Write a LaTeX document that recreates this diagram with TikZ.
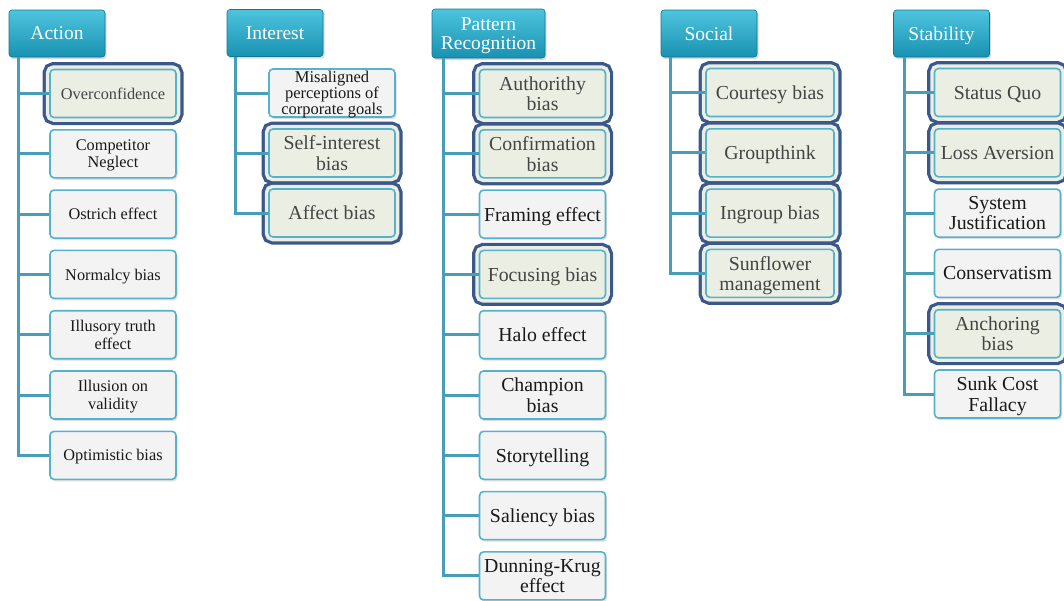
\documentclass[tikz,border=0pt]{standalone}
\usepackage{fontspec}
\setmainfont{Liberation Serif}
\usetikzlibrary{shadows}
\definecolor{headtop}{RGB}{78,196,222}
\definecolor{headbot}{RGB}{24,146,178}
\definecolor{leafline}{RGB}{84,178,204}
\definecolor{leaffill}{RGB}{243,243,243}
\definecolor{hotfill}{RGB}{235,238,226}
\definecolor{hotline}{RGB}{58,88,138}
\definecolor{hottext}{RGB}{68,68,68}
\definecolor{linkc}{RGB}{72,158,184}

\tikzset{
  head/.style={rounded corners=3pt, top color=headtop, bottom color=headbot,
    draw=headbot!80!black, line width=0.6pt, text=white, align=center,
    minimum width=96pt, minimum height=47pt, inner sep=1pt, text depth=0pt,
    font=\fontsize{19.5}{19.5}\selectfont,
    drop shadow={shadow xshift=1.5pt, shadow yshift=-2pt, opacity=0.3}},
  leaf/.style={rounded corners=4pt, fill=leaffill, draw=leafline, line width=1.6pt,
    text=black!90, align=center, minimum width=126pt, minimum height=48pt, inner sep=1pt,
    text depth=0pt, font=\fontsize{19.8}{20.5}\selectfont,
    drop shadow={shadow xshift=1.5pt, shadow yshift=-2pt, opacity=0.25}},
  hot/.style={leaf, fill=hotfill, text=hottext,
    preaction={draw=hotline, line width=15pt},
    preaction={draw=hotfill, line width=8.5pt}},
  small/.style={font=\fontsize{16.3}{17.5}\selectfont},
  tiny/.style={font=\fontsize{16.5}{15.8}\selectfont},
  link/.style={draw=linkc, line width=3pt},
}

\begin{document}
\begin{tikzpicture}[x=1pt,y=1pt]
\useasboundingbox (0,0) rectangle (1064,-600);

%headers
\node[head] (act) at (57,-33.5) {Action};
\node[head] (int) at (275,-33) {Interest};
\node[head, minimum width=113pt, minimum height=49pt] (pat) at (488.5,-33.5) {Pattern\\Recognition};
\node[head] (soc) at (709,-33.5) {Social};
\node[head] (sta) at (941.5,-33.5) {Stability};

%trunk tops
\coordinate (act-t) at ([xshift=10pt]act.south west);
\coordinate (int-t) at ([xshift=9pt]int.south west);
\coordinate (pat-t) at ([xshift=12pt]pat.south west);
\coordinate (soc-t) at ([xshift=10pt]soc.south west);
\coordinate (sta-t) at ([xshift=11pt]sta.south west);

%action
\foreach \txt/\kind [count=\i] in {Overconfidence/hot, {Competitor\\Neglect}/leaf,
  Ostrich effect/leaf, Normalcy bias/leaf, {Illusory truth\\effect}/leaf,
  {Illusion on\\validity}/leaf, Optimistic bias/leaf}
{
  \node[\kind, small] (act-\i) at (113,{-93.5-60.3*(\i-1)}) {\txt};
  \draw[link] (act-t) |- (act-\i.west);
}

%interest
\node[leaf, tiny] (int-1) at (332,-93) {Misaligned\\perceptions of\\corporate goals};
\node[hot] (int-2) at (332,-153) {Self-interest\\bias};
\node[hot] (int-3) at (332,-213) {Affect bias};
\foreach \i in {1,2,3}
  \draw[link] (int-t) |- (int-\i.west);

%pattern recognition
\foreach \txt/\kind [count=\i] in {{Authorithy\\bias}/hot, {Confirmation\\bias}/hot,
  Framing effect/leaf, Focusing bias/hot, Halo effect/leaf, {Champion\\bias}/leaf,
  Storytelling/leaf, Saliency bias/leaf, {Dunning-Krug\\effect}/leaf}
{
  \node[\kind] (pat-\i) at (542.5,{-93.5-60.3*(\i-1)}) {\txt};
  \draw[link] (pat-t) |- (pat-\i.west);
}

%social
\foreach \txt [count=\i] in {Courtesy bias, Groupthink, Ingroup bias, {Sunflower\\management}}
{
  \node[hot, minimum width=128pt] (soc-\i) at (770,{-92.5-60.3*(\i-1)}) {\txt};
  \draw[link] (soc-t) |- (soc-\i.west);
}

%stability
\foreach \txt/\kind [count=\i] in {Status Quo/hot, Loss Aversion/hot,
  {System\\Justification}/leaf, Conservatism/leaf, {Anchoring\\bias}/hot,
  {Sunk Cost\\Fallacy}/leaf}
{
  \node[\kind] (sta-\i) at (997.5,{-92.5-60.3*(\i-1)}) {\txt};
  \draw[link] (sta-t) |- (sta-\i.west);
}

\end{tikzpicture}
\end{document}
